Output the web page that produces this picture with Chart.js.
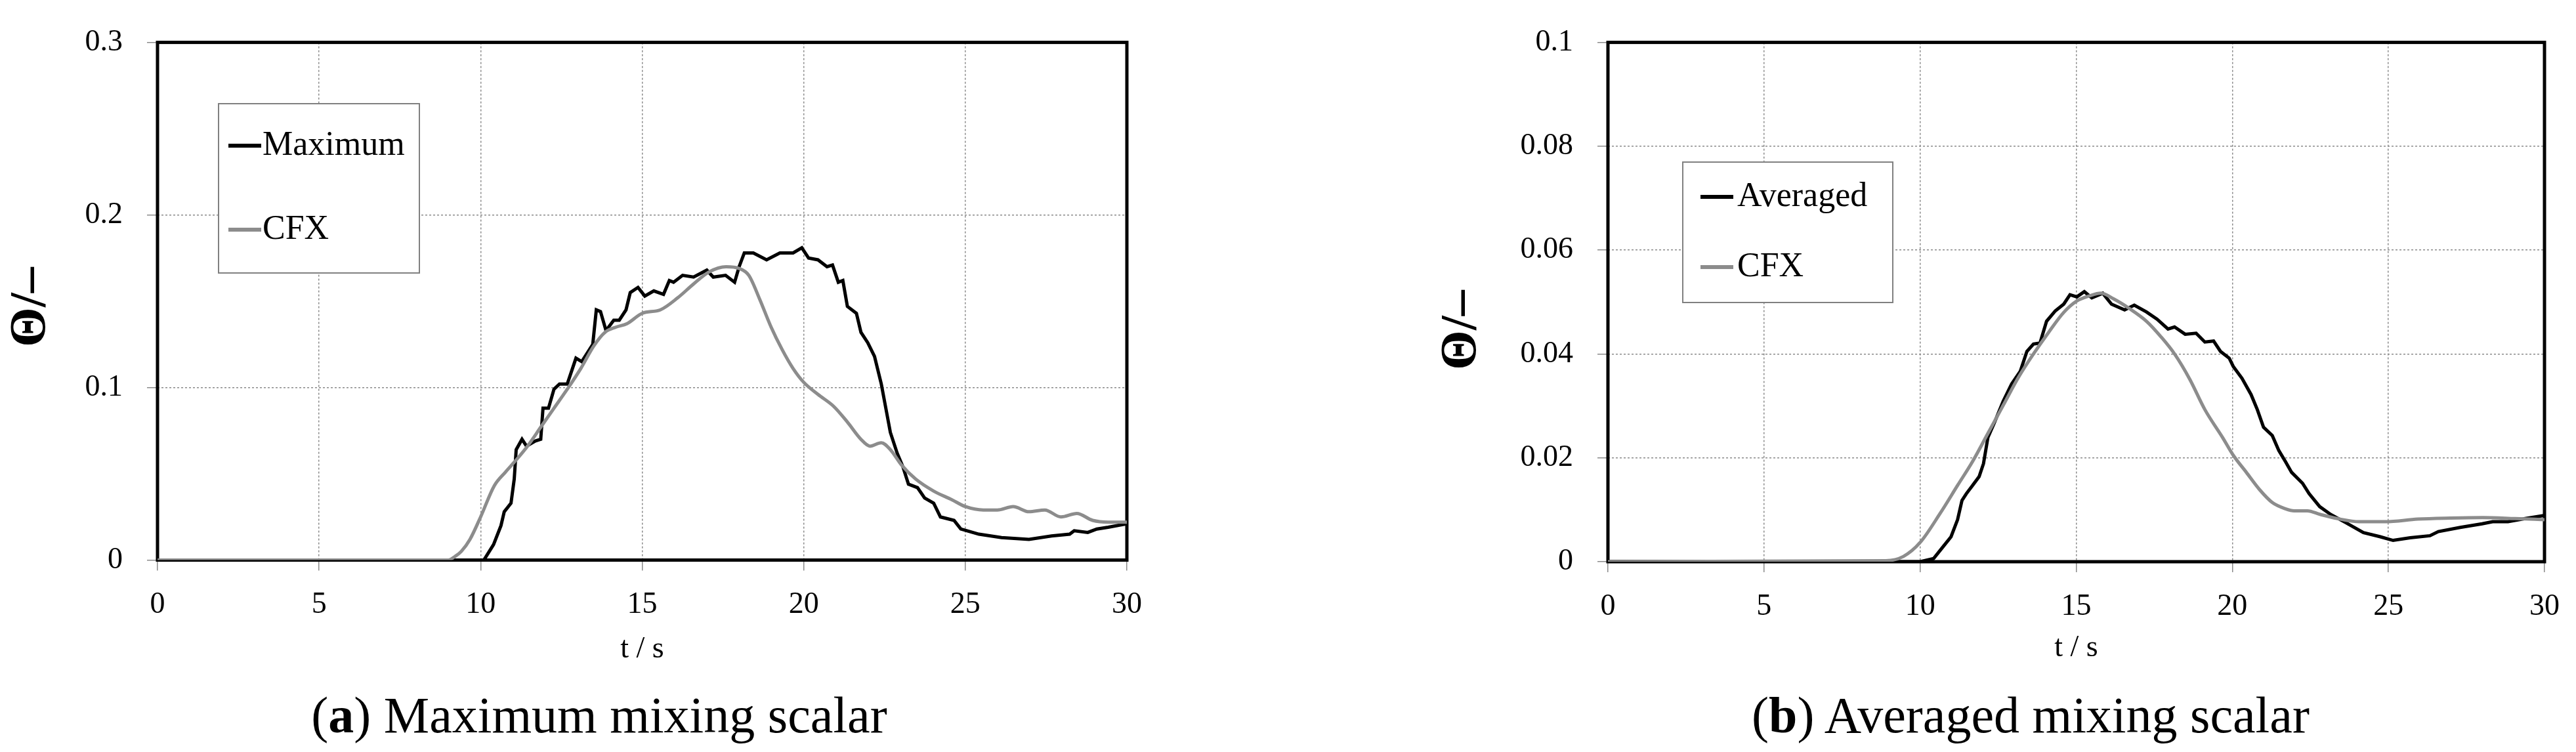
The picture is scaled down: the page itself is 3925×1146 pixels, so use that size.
<!DOCTYPE html>
<html>
<head>
<meta charset="utf-8">
<title>Mixing scalar</title>
<script src="https://cdn.jsdelivr.net/npm/chart.js@4.4.1/dist/chart.umd.min.js"></script>
<style>
  html, body { margin: 0; padding: 0; background: #fff; }
  body { width: 3925px; height: 1146px; position: relative; overflow: hidden; font-family: "Liberation Serif", serif; }
  canvas { position: absolute; top: 0; }
  #chartA { left: 0; width: 1960px; height: 1030px; }
  #chartB { left: 1960px; width: 1965px; height: 1030px; }
  .caption { position: absolute; top: 1051px; font-size: 78px; line-height: 78px; text-align: center; white-space: nowrap; color: #000; }
  #capA { left: 0; width: 1826px; }
  #capB { left: 2292px; width: 1604px; }
</style>
</head>
<body>
<canvas id="chartA" width="1960" height="1030"></canvas>
<canvas id="chartB" width="1965" height="1030"></canvas>
<div class="caption" id="capA">(<b>a</b>) Maximum mixing scalar</div>
<div class="caption" id="capB">(<b>b</b>) Averaged mixing scalar</div>

<script>
// ==== Data: [t in s, value] ====
const maximumA = [
    [0, 0], [10.1, 0], [10.4, 0.009], [10.63, 0.020], [10.73, 0.028], [10.94, 0.033], [11.04, 0.047],
    [11.1, 0.064], [11.28, 0.070], [11.42, 0.066], [11.69, 0.069], [11.86, 0.070], [11.93, 0.088],
    [12.1, 0.088], [12.27, 0.099], [12.44, 0.102], [12.68, 0.102], [12.95, 0.117], [13.13, 0.115],
    [13.47, 0.125], [13.58, 0.145], [13.71, 0.144], [13.88, 0.133], [14.12, 0.139], [14.29, 0.139],
    [14.5, 0.145], [14.63, 0.155], [14.87, 0.158], [15.08, 0.153], [15.36, 0.156], [15.66, 0.154],
    [15.84, 0.162], [15.97, 0.161], [16.25, 0.165], [16.59, 0.164], [17.0, 0.168], [17.2, 0.164],
    [17.58, 0.165], [17.86, 0.161], [18.0, 0.170], [18.16, 0.178], [18.44, 0.178], [18.85, 0.174],
    [19.26, 0.178], [19.67, 0.178], [19.94, 0.181], [20.15, 0.175], [20.44, 0.174], [20.72, 0.170],
    [20.89, 0.171], [21.07, 0.161], [21.21, 0.162], [21.35, 0.147], [21.63, 0.143], [21.77, 0.132],
    [21.98, 0.126], [22.19, 0.118], [22.4, 0.102], [22.54, 0.088], [22.68, 0.074], [22.89, 0.062],
    [23.07, 0.054], [23.24, 0.044], [23.52, 0.042], [23.74, 0.036], [24.02, 0.033], [24.23, 0.025],
    [24.65, 0.023], [24.86, 0.018], [25.42, 0.015], [26.12, 0.013], [26.97, 0.012], [27.67, 0.014],
    [28.23, 0.015], [28.37, 0.017], [28.79, 0.016], [29.07, 0.018], [29.42, 0.019], [30, 0.021]
];
const cfxA = [
    [0, 0], [9.0, 0], [9.2, 0.002], [9.4, 0.005], [9.67, 0.012], [10.0, 0.025], [10.42, 0.043],
    [10.77, 0.051], [11.1, 0.058], [11.45, 0.066], [11.86, 0.077], [12.27, 0.088], [12.68, 0.099],
    [13.1, 0.111], [13.5, 0.124], [13.85, 0.132], [14.19, 0.135], [14.53, 0.137], [15.0, 0.143],
    [15.56, 0.145], [16.1, 0.152], [16.59, 0.160], [17.07, 0.167], [17.6, 0.170], [18.0, 0.169],
    [18.3, 0.165], [18.64, 0.151], [18.99, 0.135], [19.33, 0.122], [19.67, 0.111], [20.0, 0.103],
    [20.44, 0.096], [20.93, 0.089], [21.35, 0.080], [21.77, 0.070], [22.05, 0.066], [22.4, 0.068],
    [22.68, 0.064], [23.03, 0.055], [23.46, 0.047], [24.02, 0.040], [24.58, 0.035], [25.0, 0.031],
    [25.56, 0.029], [25.99, 0.029], [26.48, 0.031], [26.97, 0.028], [27.46, 0.029], [27.96, 0.025],
    [28.45, 0.027], [28.94, 0.023], [29.43, 0.022], [30, 0.022]
];
const averagedB = [
    [0, 0], [10.0, 0], [10.43, 0.0006], [10.71, 0.0027], [10.99, 0.0048], [11.2, 0.0081], [11.34, 0.0118],
    [11.48, 0.0131], [11.68, 0.0147], [11.89, 0.0164], [12.03, 0.0189], [12.17, 0.0239], [12.38, 0.0268],
    [12.66, 0.0309], [12.93, 0.0342], [13.21, 0.0367], [13.42, 0.0405], [13.63, 0.0419], [13.84, 0.0421],
    [14.05, 0.0463], [14.33, 0.0483], [14.6, 0.0496], [14.8, 0.0514], [15.02, 0.0510], [15.26, 0.0520],
    [15.5, 0.0508], [15.85, 0.0517], [16.13, 0.0496], [16.55, 0.0485], [16.86, 0.0494], [17.25, 0.0481],
    [17.59, 0.0467], [17.94, 0.0448], [18.15, 0.0452], [18.49, 0.0438], [18.84, 0.0440], [19.12, 0.0423],
    [19.4, 0.0425], [19.62, 0.0405], [19.9, 0.0392], [20.03, 0.0376], [20.31, 0.0353], [20.6, 0.0322],
    [20.8, 0.0293], [21.0, 0.0259], [21.28, 0.0243], [21.49, 0.0214], [21.7, 0.0193], [21.9, 0.0172],
    [22.25, 0.0151], [22.46, 0.0131], [22.8, 0.0106], [23.15, 0.0091], [23.64, 0.0075], [24.2, 0.0056],
    [24.74, 0.0048], [25.15, 0.0041], [25.7, 0.0046], [26.33, 0.0050], [26.6, 0.0058], [27.3, 0.0066],
    [28.0, 0.0073], [28.34, 0.0077], [28.83, 0.0077], [29.38, 0.0083], [30, 0.0089]
];
const cfxB = [
    [0, 0], [8.9, 0.0002], [9.46, 0.001], [10.0, 0.0037], [10.64, 0.0093], [11.2, 0.0147], [11.68, 0.0193],
    [12.17, 0.0247], [12.66, 0.0301], [13.15, 0.0355], [13.63, 0.0400], [14.12, 0.0442], [14.6, 0.0480],
    [15.02, 0.0502], [15.43, 0.0512], [15.79, 0.0517], [16.2, 0.0506], [16.69, 0.0488], [17.25, 0.0463],
    [17.73, 0.0432], [18.15, 0.0400], [18.64, 0.0351], [19.12, 0.0293], [19.69, 0.0239], [20.03, 0.0205],
    [20.45, 0.0172], [20.87, 0.0139], [21.28, 0.0114], [21.7, 0.0102], [21.98, 0.0098], [22.4, 0.0098],
    [22.82, 0.0091], [23.37, 0.0083], [24.07, 0.0077], [24.9, 0.0077], [25.94, 0.0082], [26.98, 0.0084],
    [28.02, 0.0085], [29.06, 0.0083], [30, 0.0081]
];

// tick labels
const xTickLabels = ['0', '5', '10', '15', '20', '25', '30'];
const yTickLabelsA = ['0', '0.1', '0.2', '0.3'];
const yTickLabelsB = ['0', '0.02', '0.04', '0.06', '0.08', '0.1'];

const FONT = 'Liberation Serif';
const GRID = '#8a8a8a';

// ==== Plugins ====
// thick black box round the plot area
const frame = {
    id: 'frame',
    beforeDatasetsDraw(chart) {
        const { ctx, chartArea: a } = chart;
        ctx.save();
        ctx.lineWidth = 5;
        ctx.strokeStyle = '#000';
        ctx.strokeRect(a.left, a.top, a.right - a.left, a.bottom - a.top);
        ctx.restore();
    }
};

// legend inside the plot, drawn as a framed box
const boxLegend = {
    id: 'boxLegend',
    afterDatasetsDraw(chart, args, o) {
        const ctx = chart.ctx;
        const [bx, by, bw, bh] = o.box;
        ctx.save();
        ctx.fillStyle = '#fff';
        ctx.fillRect(bx, by, bw, bh);
        ctx.strokeStyle = '#808080';
        ctx.lineWidth = 2;
        ctx.strokeRect(bx, by, bw, bh);
        ctx.font = `52px "${FONT}"`;
        ctx.textBaseline = 'middle';
        o.order.forEach((dsIndex, row) => {
            const ds = chart.data.datasets[dsIndex];
            const y = o.rows[row];
            ctx.strokeStyle = ds.borderColor;
            ctx.lineWidth = 6;
            ctx.beginPath(); ctx.moveTo(o.lineX[0], y); ctx.lineTo(o.lineX[1], y); ctx.stroke();
            ctx.fillStyle = '#000';
            ctx.fillText(ds.label, o.textX, y);
        });
        ctx.restore();
    }
};

// rotated y title
const sideTitle = {
    id: 'sideTitle',
    afterDraw(chart, args, o) {
        const ctx = chart.ctx;
        ctx.save();
        ctx.translate(o.x, o.y);
        ctx.rotate(-Math.PI / 2);
        ctx.font = `bold 78px "${FONT}"`;
        ctx.textAlign = 'center';
        ctx.textBaseline = 'middle';
        ctx.fillStyle = '#000';
        ctx.fillText(o.text, 0, 0);
        ctx.restore();
    }
};

function series(label, pts, color, smooth) {
    return {
        label,
        data: pts.map(p => ({ x: p[0], y: p[1] })),
        borderColor: color,
        borderWidth: 5,
        pointRadius: 0,
        fill: false,
        tension: 0,
        cubicInterpolationMode: smooth ? 'monotone' : 'default',
        order: smooth ? 0 : 1
    };
}

function makeChart(id, cfg) {
    const tickFont = { family: FONT, size: 46 };
    return new Chart(document.getElementById(id), {
        type: 'line',
        data: { datasets: cfg.datasets },
        options: {
            responsive: false,
            animation: false,
            layout: { autoPadding: false, padding: cfg.padding },
            plugins: {
                legend: { display: false },
                tooltip: { enabled: false },
                boxLegend: cfg.legend,
                sideTitle: cfg.title
            },
            scales: {
                x: {
                    type: 'linear', min: 0, max: 30,
                    afterFit: s => { s.height = cfg.xHeight; },
                    grid: { color: GRID, lineWidth: 1.5, tickLength: 16, tickColor: GRID, tickWidth: 1.5 },
                    border: { display: false, dash: [3, 3] },
                    ticks: { stepSize: 5, padding: 25, color: '#000', font: tickFont, maxRotation: 0,
                        callback: (v, i) => xTickLabels[i] },
                    title: { display: true, text: 't / s', color: '#000', font: tickFont,
                        padding: { top: 0, bottom: cfg.xTitlePad } }
                },
                y: {
                    type: 'linear', min: 0, max: cfg.yMax,
                    afterFit: s => { s.width = cfg.yWidth; },
                    grid: { color: GRID, lineWidth: 1.5, tickLength: 16, tickColor: GRID, tickWidth: 1.5 },
                    border: { display: false, dash: [3, 3] },
                    ticks: { stepSize: cfg.yStep, padding: 37, color: '#000', font: tickFont,
                        callback: (v, i) => cfg.yLabels[i] }
                }
            }
        },
        plugins: [frame, boxLegend, sideTitle]
    });
}

window.addEventListener('load', () => {
    makeChart('chartA', {
        datasets: [series('Maximum', maximumA, '#000', false), series('CFX', cfxA, '#8c8c8c', true)],
        padding: { left: 0, right: 243, top: 37.5, bottom: 0 },
        yWidth: 240, xHeight: 176.5, xTitlePad: 12,
        yMax: 0.3, yStep: 0.1, yLabels: yTickLabelsA,
        legend: { box: [333, 158, 306, 258], rows: [222, 350], lineX: [348, 398], textX: 400, order: [0, 1] },
        title: { text: 'Θ/–', x: 48, y: 468 }
    });
    makeChart('chartB', {
        datasets: [series('Averaged', averagedB, '#000', false), series('CFX', cfxB, '#8c8c8c', true)],
        padding: { left: 0, right: 30, top: 50, bottom: 0 },
        yWidth: 490, xHeight: 174, xTitlePad: 14,
        yMax: 0.1, yStep: 0.02, yLabels: yTickLabelsB,
        legend: { box: [604, 247, 320, 214], rows: [300, 407], lineX: [631, 681], textX: 687, order: [0, 1] },
        title: { text: 'Θ/–', x: 268, y: 503 }
    });
});
</script>
</body>
</html>
